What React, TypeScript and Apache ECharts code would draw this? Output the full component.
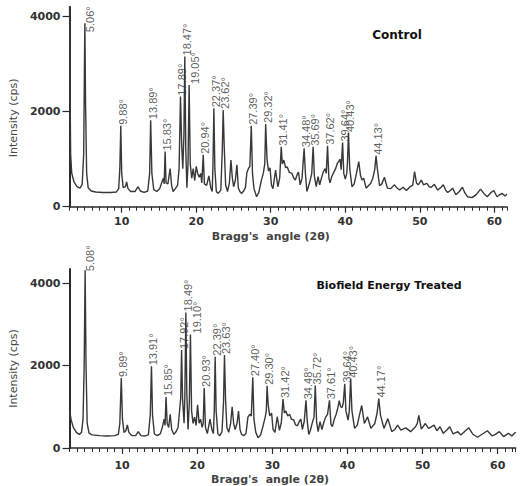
import React, { useEffect, useRef } from "react";
import * as echarts from "echarts";

type Pt = [number, number];

// Control sample: 2θ (degrees) vs intensity (cps)
const controlPattern: Pt[] = [
  [3.0, 4300], [3.08, 2400], [3.15, 1100], [3.3, 700], [3.6, 520], [4.0, 420], [4.4, 390], [4.7, 470],
  [4.9, 1100], [5.0, 2900], [5.06, 3860], [5.15, 2200], [5.3, 700], [5.5, 400], [5.9, 330], [6.5, 310],
  [7.5, 300], [8.5, 300], [9.3, 310], [9.6, 380], [9.75, 800], [9.88, 1700], [10.0, 700], [10.2, 400],
  [10.5, 420], [10.66, 520], [10.85, 380], [11.2, 320], [11.8, 320], [12.2, 420], [12.5, 330], [13.0, 300],
  [13.5, 330], [13.75, 700], [13.89, 1820], [14.05, 700], [14.3, 360], [14.7, 320], [15.1, 380], [15.4, 520],
  [15.6, 600], [15.7, 480], [15.83, 1160], [15.95, 500], [16.2, 480], [16.5, 800], [16.7, 450], [16.9, 320],
  [17.2, 380], [17.5, 450], [17.7, 800], [17.89, 2315], [18.05, 1300], [18.2, 800], [18.35, 1500], [18.47, 3160],
  [18.6, 1200], [18.75, 400], [18.9, 900], [19.05, 2560], [19.2, 900], [19.4, 600], [19.6, 800], [19.8, 550],
  [20.0, 850], [20.2, 700], [20.4, 620], [20.6, 700], [20.75, 500], [20.94, 1090], [21.1, 480], [21.4, 450],
  [21.7, 650], [21.95, 400], [22.15, 320], [22.25, 900], [22.37, 2070], [22.5, 800], [22.7, 320], [22.95, 280],
  [23.3, 350], [23.5, 1200], [23.62, 2035], [23.75, 1300], [23.95, 450], [24.2, 320], [24.45, 500], [24.66, 980],
  [24.85, 600], [25.02, 420], [25.25, 550], [25.46, 880], [25.65, 400], [25.85, 320], [26.1, 280], [26.4, 340],
  [26.6, 400], [26.8, 720], [27.0, 800], [27.2, 850], [27.39, 1700], [27.55, 700], [27.75, 380], [28.1, 210],
  [28.4, 300], [28.75, 560], [29.0, 700], [29.2, 900], [29.32, 1740], [29.5, 1000], [29.7, 750], [29.9, 820],
  [30.1, 450], [30.3, 380], [30.65, 770], [30.95, 420], [31.2, 600], [31.41, 1260], [31.55, 900], [31.75, 980],
  [32.0, 820], [32.2, 840], [32.5, 720], [32.85, 700], [33.1, 600], [33.3, 560], [33.55, 680], [33.72, 730],
  [33.95, 460], [34.2, 600], [34.48, 1230], [34.65, 700], [34.85, 320], [35.05, 420], [35.3, 560], [35.5, 700],
  [35.69, 1260], [35.85, 650], [36.1, 420], [36.35, 630], [36.57, 460], [36.8, 600], [37.05, 730], [37.3, 800],
  [37.45, 700], [37.62, 1280], [37.8, 600], [37.95, 500], [38.2, 640], [38.45, 720], [38.7, 800], [38.93, 910],
  [39.1, 950], [39.3, 1000], [39.45, 780], [39.64, 1350], [39.8, 700], [40.0, 580], [40.2, 700], [40.3, 950],
  [40.43, 1550], [40.6, 800], [40.9, 420], [41.2, 480], [41.5, 700], [41.81, 950], [42.05, 650], [42.25, 560],
  [42.47, 600], [42.8, 390], [43.1, 440], [43.4, 490], [43.7, 600], [43.95, 780], [44.13, 1070], [44.3, 800],
  [44.6, 440], [44.9, 480], [45.25, 620], [45.65, 390], [46.1, 380], [46.6, 460], [46.9, 400], [47.3, 350],
  [47.75, 410], [48.2, 340], [48.7, 420], [49.05, 450], [49.3, 740], [49.55, 500], [49.8, 460], [50.2, 560],
  [50.5, 460], [50.95, 490], [51.25, 420], [51.55, 410], [51.95, 470], [52.4, 350], [52.8, 400], [53.15, 460],
  [53.5, 340], [53.75, 300], [54.1, 340], [54.4, 390], [54.84, 250], [55.3, 320], [55.72, 410], [56.05, 290],
  [56.4, 210], [57.0, 190], [57.6, 260], [58.15, 370], [58.6, 280], [59.04, 210], [59.5, 290], [59.92, 340],
  [60.36, 210], [60.7, 250], [61.03, 280], [61.46, 225], [61.7, 260],
];

// Biofield energy treated sample: 2θ (degrees) vs intensity (cps)
const treatedPattern: Pt[] = [
  [3.0, 930], [3.2, 700], [3.5, 500], [3.9, 380], [4.3, 330], [4.6, 380], [4.8, 700], [4.95, 2000],
  [5.08, 4320], [5.2, 2000], [5.35, 600], [5.6, 360], [6.0, 320], [7.0, 300], [8.0, 290], [9.0, 300],
  [9.5, 330], [9.7, 600], [9.89, 1700], [10.05, 700], [10.25, 380], [10.5, 420], [10.7, 560], [10.9, 380],
  [11.3, 300], [11.8, 300], [12.15, 400], [12.5, 300], [13.0, 290], [13.5, 320], [13.75, 800], [13.91, 1985],
  [14.05, 800], [14.3, 340], [14.7, 300], [15.1, 350], [15.35, 500], [15.6, 700], [15.72, 550], [15.85, 1240],
  [16.0, 600], [16.2, 500], [16.4, 820], [16.6, 450], [16.9, 330], [17.2, 400], [17.45, 500], [17.65, 900],
  [17.8, 1200], [17.92, 2380], [18.05, 1200], [18.25, 600], [18.35, 1200], [18.49, 3295], [18.62, 1300], [18.78, 450],
  [18.95, 1100], [19.1, 2760], [19.25, 900], [19.45, 600], [19.65, 750], [19.85, 550], [20.05, 1050], [20.25, 600],
  [20.45, 700], [20.65, 500], [20.8, 600], [20.93, 1460], [21.1, 500], [21.35, 350], [21.7, 700], [21.95, 450],
  [22.15, 350], [22.27, 900], [22.39, 2220], [22.52, 900], [22.75, 350], [23.0, 300], [23.3, 400], [23.5, 1100],
  [23.63, 2260], [23.77, 1200], [23.95, 500], [24.2, 380], [24.45, 600], [24.65, 1000], [24.85, 600], [25.05, 450],
  [25.3, 600], [25.5, 900], [25.7, 450], [25.9, 330], [26.2, 300], [26.5, 360], [26.75, 750], [27.0, 820],
  [27.2, 780], [27.4, 1720], [27.55, 700], [27.8, 380], [28.1, 250], [28.45, 320], [28.8, 560], [29.05, 750],
  [29.2, 900], [29.3, 1510], [29.45, 1050], [29.65, 780], [29.9, 850], [30.1, 450], [30.35, 380], [30.65, 760],
  [30.95, 430], [31.2, 620], [31.42, 1190], [31.6, 850], [31.8, 900], [32.05, 780], [32.3, 820], [32.55, 700],
  [32.85, 680], [33.1, 560], [33.35, 540], [33.6, 650], [33.8, 700], [34.0, 450], [34.25, 650], [34.48, 1160],
  [34.65, 650], [34.85, 330], [35.05, 420], [35.3, 600], [35.55, 750], [35.72, 1520], [35.9, 620], [36.1, 400],
  [36.35, 640], [36.6, 450], [36.85, 620], [37.1, 750], [37.35, 820], [37.61, 1160], [37.8, 580], [38.0, 520],
  [38.25, 700], [38.5, 820], [38.75, 1000], [38.9, 1150], [39.1, 1000], [39.3, 990], [39.45, 1100], [39.64, 1560],
  [39.8, 900], [40.08, 676], [40.25, 900], [40.43, 1680], [40.6, 900], [40.95, 476], [41.3, 550], [41.6, 800],
  [41.9, 1033], [42.25, 595], [42.68, 755], [43.12, 476], [43.64, 595], [43.95, 850], [44.17, 1200], [44.4, 800],
  [44.86, 476], [45.38, 714], [45.9, 397], [46.3, 450], [46.68, 556], [47.11, 437], [47.76, 490], [48.41, 397],
  [49.06, 516], [49.3, 600], [49.5, 795], [49.84, 460], [50.37, 595], [50.8, 476], [51.2, 520], [51.54, 556],
  [51.9, 420], [52.32, 516], [52.76, 357], [53.2, 430], [53.62, 516], [54.06, 341], [54.71, 397], [55.1, 318],
  [55.6, 400], [56.15, 490], [56.67, 341], [57.32, 262], [57.97, 341], [58.62, 420], [59.27, 294], [59.7, 330],
  [60.22, 397], [60.78, 278], [61.43, 357], [61.87, 294], [62.3, 373], [62.4, 360],
];

// Labelled reflections (2θ, degrees)
const controlPeaks = [5.06, 9.88, 13.89, 15.83, 17.89, 18.47, 19.05, 20.94, 22.37, 23.62, 27.39, 29.32, 31.41, 34.48, 35.69, 37.62, 39.64, 40.43, 44.13];
const treatedPeaks = [5.08, 9.89, 13.91, 15.85, 17.92, 18.49, 19.1, 20.93, 22.39, 23.63, 27.4, 29.3, 31.42, 34.48, 35.72, 37.61, 39.64, 40.43, 44.17];

const xTicks = [10, 20, 30, 40, 50, 60];
const yTicks = [0, 2000, 4000];
const panelTitles = ["Control", "Biofield Energy Treated"];
const xTitle = "Bragg's  angle (2θ)";
const yTitle = "Intensity (cps)";

// label nudges in px: [sideways to the right, downwards beside the peak]
const labelNudge: Record<string, [number, number]> = {
  "5.06": [3, 10],
  "5.08": [3, 2],
  "19.05": [4, 0],
  "19.10": [5, 0],
};

const SANS = "DejaVu Sans, Liberation Sans, sans-serif";
const LABEL_FONT = "Liberation Sans, Arial, sans-serif";
const INK = "#2b2b2b";
const TRACE = "#383838";

function peakLabels(pattern: Pt[], peaks: number[]) {
  return peaks.map((a) => {
    const pt = pattern.find((p) => Math.abs(p[0] - a) < 1e-9);
    const [side, drop] = labelNudge[a.toFixed(2)] || [0, 0];
    // the label is turned 90°, so its local x runs upwards and local y runs right
    return {
      value: [a, pt ? pt[1] : 0],
      label: { offset: [-drop, 2 + side] },
    };
  });
}

function makeX(gridIndex: number, max: number, labelMargin: number, nameGap: number, namePadRight: number) {
  return [
    {
      type: "value",
      gridIndex,
      position: "bottom",
      min: 3,
      max,
      name: xTitle,
      nameLocation: "middle",
      nameGap,
      nameTextStyle: { fontFamily: SANS, fontSize: 11, fontWeight: "bold", color: "#444", padding: [0, namePadRight, 0, 0] },
      axisLine: { show: true, lineStyle: { color: INK, width: 1.5 } },
      axisTick: { show: true, inside: false, length: 6, customValues: xTicks, lineStyle: { color: INK, width: 1.2 } },
      axisLabel: { show: true, customValues: xTicks, margin: labelMargin, fontFamily: SANS, fontSize: 11, fontWeight: "bold", color: "#333" },
      splitLine: { show: false },
    },
    {
      type: "value",
      gridIndex,
      position: "bottom",
      min: 3,
      max,
      interval: 1,
      axisLine: { show: false },
      axisTick: { show: true, inside: false, length: 4, lineStyle: { color: INK, width: 1 } },
      axisLabel: { show: false },
      splitLine: { show: false },
    },
  ];
}

function makeY(gridIndex: number, max: number, nameGap: number, namePadRight: number) {
  return {
    type: "value",
    gridIndex,
    min: 0,
    max,
    name: yTitle,
    nameLocation: "middle",
    nameGap,
    nameTextStyle: { fontFamily: SANS, fontSize: 11, color: "#444", padding: [0, namePadRight, 0, 0] },
    axisLine: { show: true, lineStyle: { color: INK, width: 2 } },
    axisTick: { show: true, inside: false, length: 7, customValues: yTicks, lineStyle: { color: INK, width: 1.2 } },
    axisLabel: {
      show: true,
      customValues: yTicks,
      margin: 9,
      fontFamily: SANS,
      fontSize: 11,
      fontWeight: "bold",
      color: "#333",
      formatter: (v: number) => String(v),
    },
    splitLine: { show: false },
  };
}

function labelSeries(xAxisIndex: number, yAxisIndex: number, pattern: Pt[], peaks: number[]) {
  return {
    type: "scatter",
    xAxisIndex,
    yAxisIndex,
    symbolSize: 0,
    silent: true,
    data: peakLabels(pattern, peaks),
    label: {
      show: true,
      position: "top",
      distance: 1,
      rotate: 90,
      align: "left",
      verticalAlign: "middle",
      fontFamily: LABEL_FONT,
      fontSize: 11,
      color: "#333",
      formatter: (p: any) => p.value[0].toFixed(2) + "°",
    },
    z: 5,
  };
}

export default function App() {
  const ref = useRef<HTMLDivElement>(null);

  useEffect(() => {
    if (!ref.current) return;
    const chart = echarts.init(ref.current, undefined, { renderer: "svg" });
    chart.setOption({
      animation: false,
      backgroundColor: "#ffffff",
      grid: [
        { left: 64, right: 21, top: 7, bottom: 279.3, containLabel: false },
        { left: 59.5, right: 12.3, top: 269, bottom: 34.3, containLabel: false },
      ],
      xAxis: [...makeX(0, 61.7, 9, 24, 35), ...makeX(1, 62.4, 12, 26, 45)],
      yAxis: [makeY(0, 4200, 48, 22), makeY(1, 4350, 43, 20)],
      series: [
        {
          type: "line",
          xAxisIndex: 0,
          yAxisIndex: 0,
          data: controlPattern,
          showSymbol: false,
          symbol: "none",
          lineStyle: { color: TRACE, width: 1.4 },
          silent: true,
        },
        labelSeries(0, 0, controlPattern, controlPeaks),
        {
          type: "line",
          xAxisIndex: 2,
          yAxisIndex: 1,
          data: treatedPattern,
          showSymbol: false,
          symbol: "none",
          lineStyle: { color: TRACE, width: 1.4 },
          silent: true,
        },
        labelSeries(2, 1, treatedPattern, treatedPeaks),
      ],
      graphic: [
        {
          type: "text",
          x: 397,
          y: 35,
          style: { text: panelTitles[0], fill: "#111", font: `bold 12px ${SANS}`, align: "center", verticalAlign: "middle" },
        },
        {
          type: "text",
          x: 389,
          y: 285,
          style: { text: panelTitles[1], fill: "#111", font: `bold 11px ${SANS}`, align: "center", verticalAlign: "middle" },
        },
      ],
    });
    return () => chart.dispose();
  }, []);

  return (
    <div
      ref={ref}
      style={{ position: "fixed", left: 0, top: 0, width: 528, height: 486, background: "#fff" }}
    />
  );
}
